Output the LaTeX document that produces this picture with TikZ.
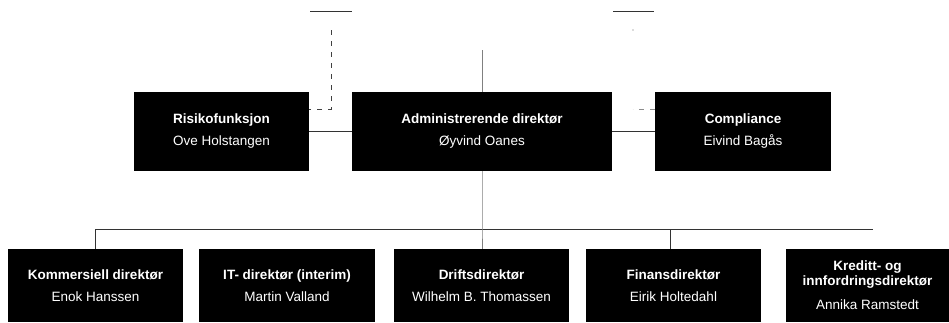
\documentclass[tikz,border=0pt]{standalone}
\usepackage{fontspec}
\setmainfont{Liberation Sans}
\begin{document}
\begin{tikzpicture}[x=1pt,y=-1pt,
  orgbox/.style={fill=black,text=white,inner sep=0pt,align=center,font=\fontsize{13.5}{15}\selectfont},
  conn/.style={draw=black!80,line width=0.9pt},
  vline/.style={draw=black!50,line width=1pt},
  dashconn/.style={draw=black!75,line width=0.9pt,dash pattern=on 5pt off 6pt}]
\useasboundingbox (0,0) rectangle (949,322);
% top row
\node[orgbox,minimum width=175pt,minimum height=79pt] (risk) at (221.5,131.5) {\textbf{Risikofunksjon}\\[7pt]Ove Holstangen};
\node[orgbox,minimum width=260pt,minimum height=79pt] (ceo) at (482,131.5) {\textbf{Administrerende direktør}\\[7pt]Øyvind Oanes};
\node[orgbox,minimum width=176pt,minimum height=79pt] (comp) at (743,131.5) {\textbf{Compliance}\\[7pt]Eivind Bagås};
% bottom row
\node[orgbox,minimum width=175pt,minimum height=73pt] (b1) at (95.5,285.5) {\textbf{Kommersiell direktør}\\[7pt]Enok Hanssen};
\node[orgbox,minimum width=176pt,minimum height=73pt] (b2) at (287,285.5) {\textbf{IT- direktør (interim)}\\[7pt]Martin Valland};
\node[orgbox,minimum width=175pt,minimum height=73pt] (b3) at (481.5,285.5) {\textbf{Driftsdirektør}\\[7pt]Wilhelm B. Thomassen};
\node[orgbox,minimum width=175pt,minimum height=73pt] (b4) at (673.5,285.5) {\textbf{Finansdirektør}\\[7pt]Eirik Holtedahl};
\node[orgbox,minimum width=163pt,minimum height=73pt] (b5) at (867.5,285.5) {\textbf{Kreditt- og}\\\textbf{innfordringsdirektør}\\[9pt]Annika Ramstedt};
% coordinates
\coordinate (tl1) at (310,11); \coordinate (tl2) at (352,11);
\coordinate (tr1) at (613,11); \coordinate (tr2) at (654,11);
\coordinate (dl) at (331,30);
\coordinate (dr) at (633,30);
\coordinate (ctop) at (482,50);
\coordinate (busL) at (95,229); \coordinate (busR) at (873,229);
\coordinate (busC) at (482,229);
\coordinate (busF) at (670,229);
% lines
\draw[conn] (tl1) -- (tl2);
\draw[conn] (tr1) -- (tr2);
\draw[vline] (ctop) -- (ceo.north);
\draw[conn] (risk.east) -- (ceo.west);
\draw[conn] (ceo.east) -- (comp.west);
\draw[dashconn] (dl) |- ([yshift=22.5pt]risk.east);
\draw[dashconn,draw=black!45] ([yshift=22.5pt]comp.west) -- ++(-22,0);
\fill[black!60] (dr) circle (0.6pt);
\draw[conn] (busL) -- (busR);
\draw[vline] (ceo.south) -- (busC) -- (busC |- b3.north);
\draw[conn] (busL) -- (busL |- b1.north);
\draw[conn] (busF) -- (busF |- b4.north);
\end{tikzpicture}
\end{document}
